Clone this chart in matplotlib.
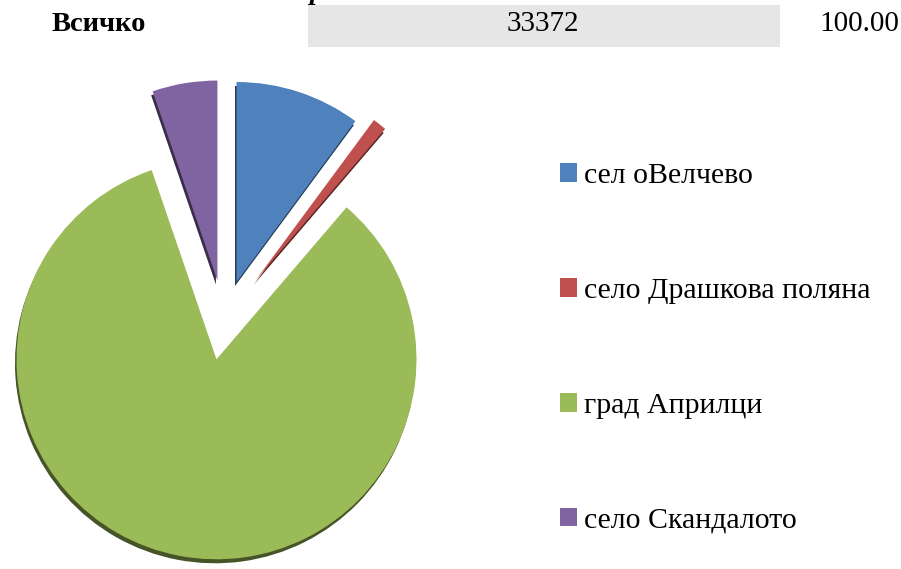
import matplotlib.pyplot as plt
from matplotlib.colors import to_rgb

plt.rcParams['font.family'] = ['Liberation Serif', 'DejaVu Serif']

# pie data
labels = ['сел оВелчево', 'село Драшкова поляна', 'град Априлци', 'село Скандалото']
values = [3380, 380, 27860, 1752]
colors = ['#4F81BD', '#C0504D', '#9BBB59', '#8064A2']

# table row above the chart
row_label = 'Всичко'
row_total = '33372'
row_pct = '100.00'

W, H = 901, 569
fig = plt.figure(figsize=(W / 100, H / 100), dpi=100)
ax = fig.add_axes([0, 0, 1, 1])

cx, cy = 224, H - 320
r = 200
# explode in data units (pixels here)
explode = [40, 50, 40, 40]

# darker copy slightly shifted = pie thickness
dark = [tuple(c * 0.45 for c in to_rgb(col)) for col in colors]
ax.pie(values, colors=dark, explode=explode, startangle=90, counterclock=False,
       center=(cx - 1.5, cy - 4), radius=r, wedgeprops=dict(linewidth=0))
wedges, _ = ax.pie(values, colors=colors, explode=explode, startangle=90,
                   counterclock=False, center=(cx, cy), radius=r,
                   wedgeprops=dict(linewidth=0))

ax.set_xlim(0, W)
ax.set_ylim(0, H)
ax.axis('off')

# top row
ax.add_patch(plt.Rectangle((308, H - 47), 472, 42, facecolor='#E6E6E6', edgecolor='none'))
ax.text(52, H - 24, row_label, fontsize=20.5, fontweight='bold', ha='left', va='center')
ax.text(543, H - 24, row_total, fontsize=21, ha='center', va='center')
ax.text(899, H - 24, row_pct, fontsize=21, ha='right', va='center')
ax.text(310, H + 1, 'р', fontsize=20, fontweight='bold', fontstyle='italic',
        ha='left', va='baseline', clip_on=False)

ax.legend(wedges, labels, loc='upper left', bbox_to_anchor=(560 / W, 1 - 163 / H),
          bbox_transform=fig.transFigure, frameon=False, fontsize=21.5,
          borderpad=0, borderaxespad=0, handlelength=0.56, handleheight=0.56,
          handletextpad=0.25, labelspacing=2.98)

fig.savefig('out.png', dpi=100)
